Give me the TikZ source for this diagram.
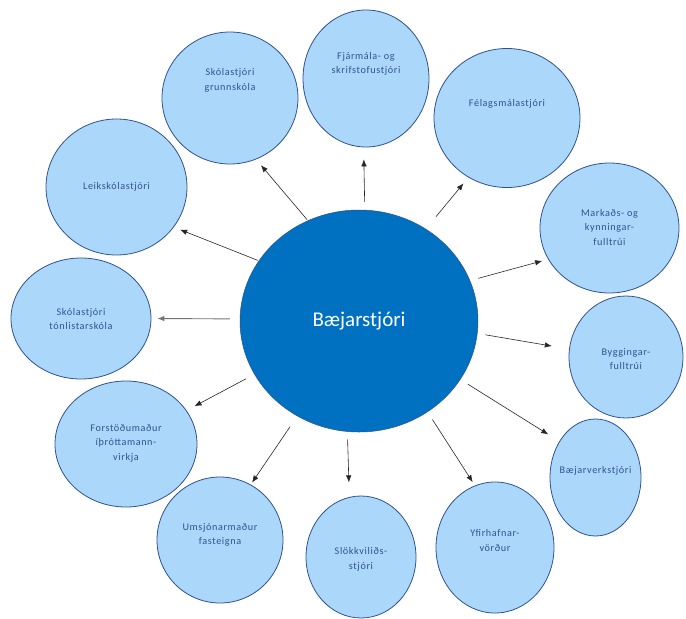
\documentclass[tikz,border=0pt]{standalone}
\usepackage{fontspec}
\setmainfont{Carlito}
\newfontfamily\boxfont[LetterSpace=6]{Carlito}
\usetikzlibrary{arrows.meta,shapes.geometric}
\definecolor{bossfill}{RGB}{0,112,192}
\definecolor{satfill}{RGB}{170,215,250}
\definecolor{satline}{RGB}{47,82,143}
\definecolor{sattext}{RGB}{50,82,145}
\newcommand{\satfont}{\boxfont\fontsize{10.2}{14.5}\selectfont}

\begin{document}
\begin{tikzpicture}[x=1pt,y=-1pt,
  boss/.style={ellipse, draw=satline, line width=0.5pt, fill=bossfill, inner sep=0pt,
    text=white, font=\fontsize{21}{25}\selectfont},
  sat/.style={ellipse, draw=satline, line width=0.8pt, fill=satfill, inner sep=0pt},
  sattxt/.style={align=center, text=sattext, font=\satfont, inner sep=0pt},
  arr/.style={-{Latex[length=7pt,width=5.5pt]}, line width=0.6pt, black!85}]
\useasboundingbox (0,0) rectangle (686,619);
\node[boss, minimum width=238pt, minimum height=222pt] (boss) at (359,321) {Bæjarstjóri};
% satellites
\node[sat, minimum width=136pt, minimum height=132pt] (grunn) at (230,98) {};
\node[sat, minimum width=126pt, minimum height=137pt] (fjarm) at (366,78.5) {};
\node[sat, minimum width=146pt, minimum height=139pt] (felag) at (507,118) {};
\node[sat, minimum width=139pt, minimum height=130pt] (markad) at (609.5,228) {};
\node[sat, minimum width=114pt, minimum height=122pt] (bygg) at (626,357) {};
\node[sat, minimum width=91pt, minimum height=117pt] (verk) at (595.5,477.5) {};
\node[sat, minimum width=118pt, minimum height=131pt] (yfir) at (495,547.5) {};
\node[sat, minimum width=110pt, minimum height=122pt] (slokk) at (361,557) {};
\node[sat, minimum width=126pt, minimum height=126pt] (umsjon) at (220,540) {};
\node[sat, minimum width=142pt, minimum height=126pt] (forst) at (126,444) {};
\node[sat, minimum width=140pt, minimum height=121pt] (tonlist) at (81,318.5) {};
\node[sat, minimum width=141pt, minimum height=136pt] (leik) at (116.5,187) {};
% texts
\node[sattxt, yshift=17.5pt] (grunn-t) at (grunn) {Skólastjóri\\grunnskóla};
\node[sattxt, yshift=14.5pt] (fjarm-t) at (fjarm) {Fjármála- og\\skrifstofustjóri};
\node[sattxt, yshift=14pt] (felag-t) at (felag) {Félagsmálastjóri};
\node[sattxt, yshift=1pt] (markad-t) at (markad) {Markaðs- og\\kynningar-\\fulltrúi};
\node[sattxt, yshift=-2pt] (bygg-t) at (bygg) {Byggingar-\\fulltrúi};
\node[sattxt, yshift=6.5pt] (verk-t) at (verk) {Bæjarverkstjóri};
\node[sattxt, yshift=7pt] (yfir-t) at (yfir) {Yfirhafnar-\\vörður};
\node[sattxt, yshift=-2.5pt] (slokk-t) at (slokk) {Slökkviliðs-\\stjóri};
\node[sattxt, yshift=5pt] (umsjon-t) at (umsjon) {Umsjónarmaður\\fasteigna};
\node[sattxt, yshift=1pt] (forst-t) at (forst) {Forstöðumaður\\íþróttamann-\\virkja};
\node[sattxt, yshift=-0.5pt] (tonlist-t) at (tonlist) {Skólastjóri\\tónlistarskóla};
\node[sattxt] (leik-t) at (leik) {Leikskólastjóri};
% arrows
\draw[arr] [shorten <=1pt, shorten >=7.6pt] (boss.117) -- (grunn.293);
\draw[arr] [shorten <=8pt, shorten >=12pt] (boss.87) -- (fjarm.268);
\draw[arr] [shorten <=16pt, shorten >=7.7pt] (boss.54) -- (felag.237.5);
\draw[arr] [shorten <=8.5pt, shorten >=6.2pt] (boss.20) -- (markad.207);
\draw[arr] [shorten <=8pt, shorten >=17.5pt] (boss.354) -- (bygg.172);
\draw[arr] [shorten <=8.6pt, shorten >=13pt] (boss.330.4) -- (verk.135.6);
\draw[arr] [shorten <=9pt, shorten >=4pt] (boss.307) -- (yfir.108);
\draw[arr] [shorten <=7.6pt, shorten >=14.6pt] (boss.264) -- (slokk.101);
\draw[arr] [shorten <=13pt, shorten >=2.4pt] (boss.237) -- (umsjon.61);
\draw[arr] [shorten <=9.4pt, shorten >=9pt] (boss.207) -- (forst.29);
\draw[arr] [black!55, line width=0.9pt] [shorten <=10pt, shorten >=6pt] (boss.179) -- (tonlist.0);
\draw[arr] [shorten <=1pt, shorten >=6.7pt] (boss.149) -- (leik.325);
\end{tikzpicture}
\end{document}
